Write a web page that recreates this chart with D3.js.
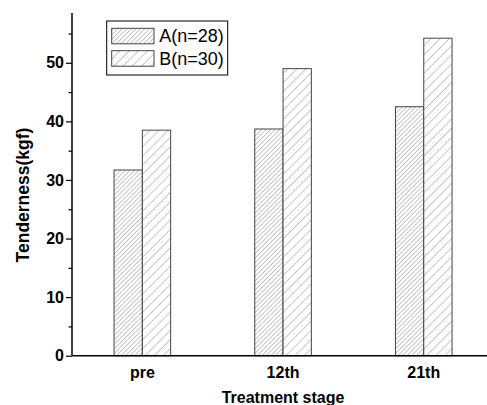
<!DOCTYPE html>
<html>
<head>
<meta charset="utf-8">
<script src="https://cdn.jsdelivr.net/npm/d3@7"></script>
<style>
  body { margin: 0; background: #fff; }
  text { font-family: Arial, "Liberation Sans", sans-serif; }
</style>
</head>
<body>
<script>

// Chart values.
var stages = ['pre', '12th', '21th'];
var seriesNames = ['A(n=28)', 'B(n=30)'];
var seriesA = [31.7, 38.7, 42.5];
var seriesB = [38.5, 49.0, 54.2];
var yTicks = [0, 10, 20, 30, 40, 50];

var width = 487, height = 405;
var plotLeft = 72, plotBottom = 355.7, plotTop = 13;
var plotRight = plotLeft + 3 * 140.7;

var svg = d3.select('body').append('svg')
  .attr('width', width).attr('height', height);

// Hatch patterns: dense for A, sparse for B.
var defs = svg.append('defs');
function hatch(id, gap) {
  var p = defs.append('pattern')
    .attr('id', id)
    .attr('patternUnits', 'userSpaceOnUse')
    .attr('width', gap).attr('height', gap)
    .attr('patternTransform', 'rotate(45)');
  p.append('rect').attr('width', gap).attr('height', gap).attr('fill', '#fff');
  p.append('line')
    .attr('x1', 0).attr('y1', 0).attr('x2', 0).attr('y2', gap)
    .attr('stroke', '#777').attr('stroke-width', 0.8);
}
hatch('hatchA', 3.2);
hatch('hatchB', 6.5);

var x = d3.scaleBand().domain(stages).range([plotLeft, plotRight]);
var sub = d3.scaleBand().domain(seriesNames).range([0, 56.6]);
var y = d3.scaleLinear().domain([0, 58.5]).range([plotBottom, plotTop]);

var rows = stages.map(function(s, i) {
  return [
    { stage: s, name: seriesNames[0], value: seriesA[i], fill: 'url(#hatchA)' },
    { stage: s, name: seriesNames[1], value: seriesB[i], fill: 'url(#hatchB)' }
  ];
});

// Bars.
svg.append('g').selectAll('g')
  .data(rows)
  .join('g')
  .attr('transform', function(d) {
    return 'translate(' + (x(d[0].stage) + x.bandwidth() / 2 - 28.3) + ',0)';
  })
  .selectAll('rect')
  .data(function(d) { return d; })
  .join('rect')
  .attr('x', function(d) { return sub(d.name); })
  .attr('y', function(d) { return y(d.value); })
  .attr('width', sub.bandwidth())
  .attr('height', function(d) { return plotBottom - y(d.value); })
  .attr('fill', function(d) { return d.fill; })
  .attr('stroke', '#444')
  .attr('stroke-width', 1);

// Y axis with minor ticks.
var yAxis = svg.append('g').attr('transform', 'translate(' + plotLeft + ',0)');
yAxis.append('g')
  .call(d3.axisLeft(y).tickValues(d3.range(5, 58, 10)).tickSize(3.5)
    .tickFormat(''));
yAxis.append('g')
  .call(d3.axisLeft(y).tickValues(yTicks).tickSize(6).tickPadding(2));
yAxis.selectAll('.domain').remove();
yAxis.selectAll('line').attr('stroke', '#000').attr('stroke-width', 1.2);
yAxis.selectAll('text')
  .attr('font-size', 16).attr('font-weight', 'bold').attr('fill', '#000');
svg.append('line')
  .attr('x1', plotLeft).attr('x2', plotLeft)
  .attr('y1', plotTop).attr('y2', plotBottom)
  .attr('stroke', '#000').attr('stroke-width', 1.5);

// X axis (no ticks, just labels).
var xAxis = svg.append('g').attr('transform', 'translate(0,' + plotBottom + ')');
xAxis.call(d3.axisBottom(x).tickSize(0).tickPadding(11));
xAxis.select('.domain').remove();
xAxis.selectAll('text')
  .attr('font-size', 16).attr('font-weight', 'bold').attr('fill', '#000');
svg.append('line')
  .attr('x1', plotLeft).attr('x2', width)
  .attr('y1', plotBottom).attr('y2', plotBottom)
  .attr('stroke', '#000').attr('stroke-width', 1.5);

// Axis titles.
svg.append('text')
  .attr('x', (plotLeft + plotRight) / 2).attr('y', 403)
  .attr('text-anchor', 'middle')
  .attr('font-size', 16).attr('font-weight', 'bold')
  .text('Treatment stage');
svg.append('text')
  .attr('transform', 'translate(28.5,195) rotate(-90)')
  .attr('text-anchor', 'middle')
  .attr('font-size', 17.5).attr('font-weight', 'bold')
  .text('Tenderness(kgf)');

// Legend.
var legend = svg.append('g');
legend.append('rect')
  .attr('x', 106.7).attr('y', 21).attr('width', 121).attr('height', 54)
  .attr('fill', '#fff').attr('stroke', '#000').attr('stroke-width', 1);
var items = legend.selectAll('g.item')
  .data([
    { name: seriesNames[0], fill: 'url(#hatchA)' },
    { name: seriesNames[1], fill: 'url(#hatchB)' }
  ])
  .join('g')
  .attr('class', 'item')
  .attr('transform', function(d, i) {
    return 'translate(0,' + (28.3 + i * 22.4) + ')';
  });
items.append('rect')
  .attr('x', 111.7).attr('width', 42.3).attr('height', 15.5)
  .attr('fill', function(d) { return d.fill; })
  .attr('stroke', '#444');
items.append('text')
  .attr('x', 159.3).attr('y', 14)
  .attr('font-size', 18)
  .text(function(d) { return d.name; });

</script>
</body>
</html>
